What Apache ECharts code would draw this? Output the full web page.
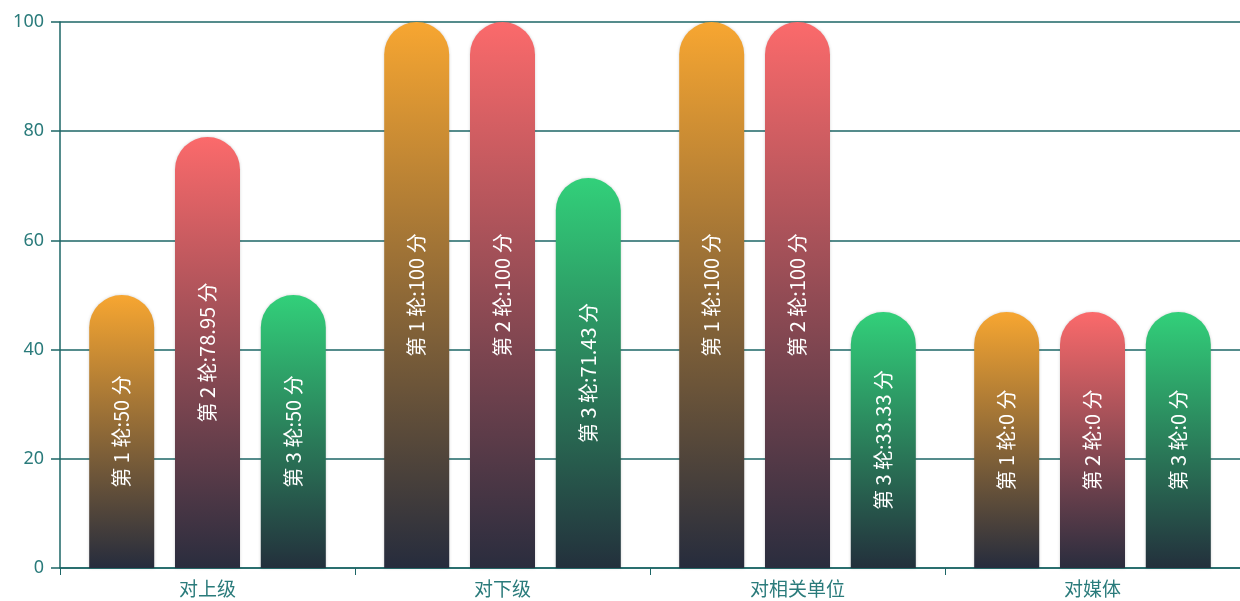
<!DOCTYPE html>
<html>
<head>
<meta charset="utf-8">
<script src="https://cdn.jsdelivr.net/npm/echarts@6/dist/echarts.min.js"></script>
<style>html,body{margin:0;padding:0;background:#fff}#c{width:1240px;height:601px}</style>
</head>
<body>
<div id="c"></div>
<script>
var categories = ['对上级', '对下级', '对相关单位', '对媒体'];
var round1 = [50, 100, 100, 0];
var round2 = [78.95, 100, 100, 0];
var round3 = [50, 71.43, 33.33, 0];
var roundNames = ['第 1 轮', '第 2 轮', '第 3 轮'];
var yTicks = [0, 20, 40, 60, 80, 100];

var topColors = ['#f7a631', '#fb6a6b', '#32d07a'];
var bottomColors = ['#262c3d', '#2a2d3e', '#23303c'];
var axisColor = '#1d6666';
var textColor = '#2a7b7b';

function mk(i, data) {
  return {
    name: roundNames[i],
    type: 'bar',
    data: data,
    barWidth: 65,
    barGap: '32%',
    barMinHeight: 256,
    itemStyle: {
      borderRadius: [33, 33, 0, 0],
      shadowBlur: 3,
      shadowColor: 'rgba(0,0,0,0.18)',
      color: new echarts.graphic.LinearGradient(0, 0, 0, 1, [
        { offset: 0, color: topColors[i] },
        { offset: 1, color: bottomColors[i] }
      ])
    },
    label: {
      show: true,
      position: 'inside',
      rotate: 90,
      color: '#ffffff',
      fontSize: 20,
      fontFamily: 'Noto Sans CJK SC',
      formatter: function (p) { return roundNames[i] + ':' + p.value + ' 分'; }
    }
  };
}

var chart = echarts.init(document.getElementById('c'));
chart.setOption({
  animation: false,
  grid: { left: 60, right: 0, top: 22, bottom: 33 },
  xAxis: {
    type: 'category',
    data: categories,
    axisLine: { lineStyle: { color: axisColor, width: 1.5 } },
    axisTick: { show: true, length: 7, lineStyle: { color: axisColor } },
    axisLabel: { color: textColor, fontSize: 19, fontFamily: 'Noto Sans CJK SC', margin: 11 }
  },
  yAxis: {
    type: 'value',
    min: yTicks[0],
    max: yTicks[yTicks.length - 1],
    interval: 20,
    axisLine: { show: true, lineStyle: { color: axisColor, width: 1.5 } },
    axisTick: { show: true, length: 9, lineStyle: { color: axisColor, width: 1.5 } },
    splitLine: { show: true, lineStyle: { color: axisColor, width: 1.5 } },
    axisLabel: { color: textColor, fontSize: 18, fontFamily: 'Noto Sans', margin: 16 }
  },
  series: [mk(0, round1), mk(1, round2), mk(2, round3)]
});
</script>
</body>
</html>
